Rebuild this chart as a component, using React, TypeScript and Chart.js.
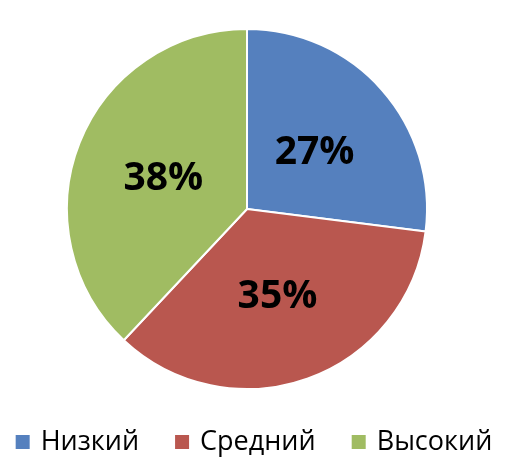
import React, { useEffect, useRef } from "react";
import { Chart, registerables } from "chart.js";

Chart.register(...registerables);

const categories = ["Низкий", "Средний", "Высокий"];
const values = [27, 35, 38];
const percentLabels = ["27%", "35%", "38%"];
const colors = ["#5580BE", "#B9574F", "#A0BC62"];

const labelPlugin = {
  id: "sliceLabels",
  afterDatasetsDraw(chart: any) {
    const ctx = chart.ctx;
    const meta = chart.getDatasetMeta(0);
    ctx.save();
    ctx.fillStyle = "#000";
    ctx.font = "bold 39px 'Open Sans'";
    ctx.textAlign = "center";
    ctx.textBaseline = "middle";
    meta.data.forEach((arc: any, i: number) => {
      const p = arc.tooltipPosition();
      ctx.fillText(percentLabels[i], p.x, p.y + 3);
    });
    ctx.restore();
  },
};

const legendPlugin = {
  id: "customLegend",
  afterDraw(chart: any) {
    const ctx = chart.ctx;
    const box = 14;
    const gapBoxText = 11;
    const gapItems = 36;
    const centerX = 254;
    const y = 442;
    ctx.save();
    ctx.font = "27px 'Open Sans'";
    ctx.textBaseline = "middle";
    ctx.textAlign = "left";
    const widths = categories.map((c) => ctx.measureText(c).width);
    const total =
      widths.reduce((s, w) => s + box + gapBoxText + w, 0) + gapItems * (categories.length - 1);
    let x = centerX - total / 2;
    categories.forEach((c, i) => {
      ctx.fillStyle = colors[i];
      ctx.fillRect(x, y - box / 2, box, box);
      ctx.fillStyle = "#000";
      ctx.fillText(c, x + box + gapBoxText, y);
      x += box + gapBoxText + widths[i] + gapItems;
    });
    ctx.restore();
  },
};

export default function App() {
  const ref = useRef<HTMLCanvasElement>(null);
  useEffect(() => {
    const chart = new Chart(ref.current!, {
      type: "pie",
      data: {
        labels: categories,
        datasets: [
          {
            data: values,
            backgroundColor: colors,
            borderColor: "#fff",
            borderWidth: 2,
          },
        ],
      },
      options: {
        animation: false,
        responsive: false,
        layout: { padding: { top: 28, bottom: 80, left: 0, right: 28 } },
        plugins: {
          tooltip: { enabled: false },
          legend: { display: false },
        },
      },
      plugins: [labelPlugin, legendPlugin],
    });
    return () => chart.destroy();
  }, []);
  return (
    <div style={{ position: "fixed", left: 0, top: 0, width: 522, height: 470, background: "#fff" }}>
      <canvas ref={ref} width={522} height={470} style={{ width: 522, height: 470 }} />
    </div>
  );
}
